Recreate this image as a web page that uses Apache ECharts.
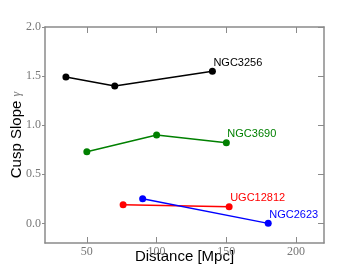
<!DOCTYPE html>
<html><head><meta charset="utf-8">
<script src="https://cdn.jsdelivr.net/npm/echarts@6/dist/echarts.min.js"></script>
<style>html,body{margin:0;padding:0;background:#fff}#c{width:360px;height:270px}</style>
</head><body><div id="c"></div>
<script>
const galaxies = ['NGC3256', 'NGC3690', 'UGC12812', 'NGC2623'];
const colors = ['#000000', '#008000', '#ff0000', '#0000ff'];
const ngc3256 = [[35, 1.49], [70, 1.40], [140, 1.55]];
const ngc3690 = [[50, 0.73], [100, 0.90], [150, 0.82]];
const ugc12812 = [[76, 0.19], [152, 0.17]];
const ngc2623 = [[90, 0.25], [180, 0.00]];
const seriesData = [ngc3256, ngc3690, ugc12812, ngc2623];
const xTicks = [50, 100, 150, 200];
const yTicks = [0, 0.5, 1.0, 1.5, 2.0];
// tick grid steps spanning the axis ranges (used only to place tick marks)
const xSteps = [20, 30, 40, 50, 60, 70, 80, 90, 100, 110, 120, 130, 140, 150, 160, 170, 180, 190, 200, 210, 220];
const ySteps = [-0.2, -0.1, 0.0, 0.1, 0.2, 0.3, 0.4, 0.5, 0.6, 0.7, 0.8, 0.9, 1.0, 1.1, 1.2, 1.3, 1.4, 1.5, 1.6, 1.7, 1.8, 1.9, 2.0];

const axisGray = '#8a8a8a';
const labelFont = {fontFamily: 'Liberation Serif', fontSize: 12, color: '#777'};
const chart = echarts.init(document.getElementById('c'), null, {renderer: 'canvas'});
const gridBox = {left: 45, right: 36, top: 27, bottom: 27, containLabel: false, outerBoundsMode: 'none'};

const isTick = (list) => (idx, val) => list.some(t => Math.abs(t - Number(val)) < 1e-6);

function tickAxis(kind, pos, steps, list, outside) {
  return {
    type: 'category', gridIndex: 1, position: pos, data: steps.map(String), boundaryGap: false,
    axisLine: {show: true, onZero: false, lineStyle: {color: axisGray, width: 1.5}},
    axisTick: {show: true, inside: !outside, length: outside ? 3 : 6, interval: isTick(list), lineStyle: {color: axisGray, width: 1}},
    axisLabel: {show: false}, splitLine: {show: false}
  };
}

chart.setOption({
  animation: false,
  grid: [Object.assign({}, gridBox), Object.assign({}, gridBox)],
  xAxis: [
    {
      type: 'value', gridIndex: 0, position: 'bottom', min: 20, max: 220, interval: 10,
      splitLine: {show: false}, axisLine: {show: false}, axisTick: {show: false},
      axisLabel: Object.assign({show: true, margin: 3, customValues: xTicks}, labelFont),
      name: 'Distance [Mpc]', nameLocation: 'middle', nameGap: 6, nameMoveOverlap: false,
      nameTextStyle: {fontFamily: 'Liberation Sans', fontSize: 15, color: '#000'}
    },
    tickAxis('x', 'bottom', xSteps, xTicks, false),
    tickAxis('x', 'top', xSteps, xTicks, false)
  ],
  yAxis: [
    {
      type: 'value', gridIndex: 0, position: 'left', min: -0.2, max: 2.0, interval: 0.1,
      splitLine: {show: false}, axisLine: {show: false}, axisTick: {show: false},
      axisLabel: Object.assign({show: true, margin: 4, customValues: yTicks, formatter: v => v.toFixed(1)}, labelFont),
      name: 'Cusp Slope {g|γ}', nameLocation: 'middle', nameGap: 21, nameMoveOverlap: false,
      nameTextStyle: {fontFamily: 'Liberation Sans', fontSize: 15, color: '#000',
        rich: {g: {fontFamily: 'Liberation Serif', fontStyle: 'italic', fontSize: 12, color: '#777'}}}
    },
    tickAxis('y', 'left', ySteps, yTicks, true),
    tickAxis('y', 'right', ySteps, yTicks, false)
  ],
  series: galaxies.map((g, i) => ({
    type: 'line', name: g, data: seriesData[i],
    xAxisIndex: 0, yAxisIndex: 0, z: 3,
    symbol: 'circle', symbolSize: 7,
    lineStyle: {color: colors[i], width: 1.5},
    itemStyle: {color: colors[i]},
    label: {
      show: true,
      formatter: p => p.dataIndex === seriesData[i].length - 1 ? g : '',
      position: [4.5, 0.5], align: 'left', verticalAlign: 'bottom',
      fontFamily: 'Liberation Sans', fontSize: 11, color: colors[i]
    }
  }))
});
</script></body></html>
